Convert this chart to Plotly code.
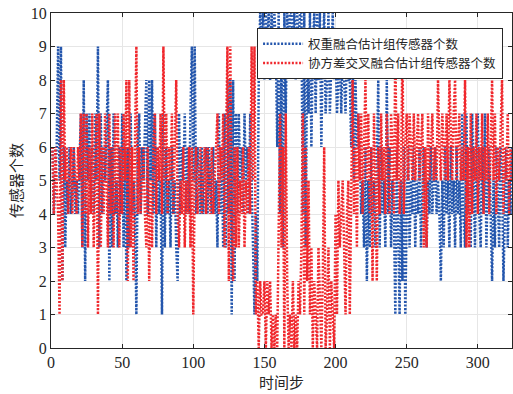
import plotly.graph_objects as go

# ---- data ----
blue_counts = [
    6, 4, 5, 6, 9, 5, 9, 2, 6, 3, 5, 4, 6, 4, 5, 6, 4, 5, 4, 6,
    7, 3, 8, 2, 7, 5, 7, 4, 6, 4, 7, 5, 9, 3, 7, 4, 6, 5, 7, 8,
    2, 6, 3, 7, 4, 5, 3, 6, 4, 7, 3, 6, 2, 6, 3, 7, 4, 5, 4, 1,
    6, 7, 4, 6, 5, 7, 8, 4, 8, 5, 8, 4, 7, 3, 6, 4, 5, 1, 7, 3,
    6, 4, 5, 3, 6, 4, 5, 3, 2, 7, 4, 6, 5, 7, 4, 6, 4, 7, 9, 5,
    9, 4, 6, 5, 4, 6, 4, 5, 6, 4, 6, 5, 4, 6, 4, 5, 3, 7, 4, 6,
    3, 7, 3, 8, 4, 8, 1, 8, 2, 7, 4, 7, 5, 6, 4, 7, 5, 6, 4, 7,
    5, 3, 1, 4, 2, 8, 10, 9, 10, 8, 10, 9, 10, 8, 10, 9, 10, 9, 6, 10,
    4, 9, 3, 10, 7, 10, 9, 10, 10, 9, 10, 8, 10, 9, 10, 10, 4, 10, 3, 9,
    7, 10, 6, 9, 10, 7, 10, 8, 10, 6, 9, 10, 7, 8, 10, 7, 9, 10, 8, 9,
    7, 8, 9, 7, 9, 8, 7, 9, 8, 8, 6, 9, 5, 8, 6, 7, 6, 4, 5, 3,
    6, 2, 5, 3, 6, 4, 5, 3, 6, 8, 3, 6, 4, 5, 3, 8, 4, 6, 3, 5,
    4, 1, 6, 3, 1, 5, 2, 6, 1, 4, 6, 3, 5, 4, 6, 3, 5, 4, 6, 3,
    5, 6, 4, 3, 5, 4, 6, 4, 5, 6, 4, 5, 4, 2, 5, 3, 6, 4, 5, 3,
    6, 4, 5, 3, 6, 4, 5, 3, 7, 4, 3, 7, 4, 6, 3, 7, 5, 3, 6, 7,
    4, 3, 6, 4, 7, 3, 5, 6, 4, 2, 5, 3, 6, 4, 3, 6, 5, 2, 4, 6,
    3, 5, 4, 6,
]

red_counts = [
    6, 4, 6, 5, 4, 1, 8, 2, 8, 5, 6, 4, 5, 6, 4, 6, 5, 4, 6, 5,
    7, 3, 7, 4, 7, 3, 6, 4, 7, 3, 5, 7, 1, 7, 3, 6, 4, 7, 5, 3,
    7, 4, 6, 3, 7, 4, 7, 3, 6, 4, 7, 5, 8, 2, 8, 3, 6, 2, 6, 9,
    4, 6, 4, 5, 6, 4, 3, 6, 2, 5, 3, 6, 7, 4, 6, 5, 7, 4, 9, 5,
    7, 4, 6, 5, 7, 4, 6, 8, 4, 3, 5, 4, 6, 3, 5, 4, 6, 3, 6, 1,
    5, 6, 4, 5, 6, 4, 5, 6, 4, 6, 5, 4, 6, 4, 5, 6, 7, 4, 6, 5,
    7, 3, 6, 9, 2, 9, 4, 2, 6, 3, 6, 3, 5, 4, 6, 3, 5, 4, 6, 4,
    9, 5, 9, 1, 2, 0, 2, 1, 1, 2, 0, 2, 1, 2, 0, 1, 0, 1, 0, 3,
    7, 3, 6, 0, 7, 2, 0, 1, 0, 2, 0, 1, 0, 2, 1, 3, 7, 1, 6, 2,
    5, 1, 3, 0, 2, 1, 0, 3, 1, 0, 2, 6, 0, 1, 3, 0, 2, 1, 0, 4,
    1, 5, 3, 4, 5, 3, 1, 4, 5, 1, 5, 8, 4, 6, 3, 7, 5, 7, 4, 6,
    8, 5, 7, 4, 6, 2, 7, 5, 2, 6, 4, 7, 5, 6, 4, 7, 5, 4, 7, 6,
    4, 9, 5, 7, 4, 5, 9, 4, 6, 7, 5, 7, 6, 5, 7, 5, 6, 7, 5, 6,
    7, 3, 6, 3, 7, 5, 6, 7, 5, 6, 5, 8, 6, 5, 7, 6, 5, 7, 5, 8,
    6, 5, 7, 8, 5, 6, 7, 5, 6, 5, 8, 3, 6, 3, 7, 4, 6, 5, 7, 4,
    6, 5, 7, 4, 6, 5, 7, 4, 6, 8, 5, 7, 4, 6, 5, 7, 8, 4, 6, 5,
    7, 4, 6, 5,
]

blue_steps = list(range(1, len(blue_counts) + 1))
red_steps = list(range(1, len(red_counts) + 1))

x_ticks = [0, 50, 100, 150, 200, 250, 300]
y_ticks = list(range(0, 11))

name_blue = "权重融合估计组传感器个数"
name_red = "协方差交叉融合估计组传感器个数"
x_title = "时间步"
y_title = "传感器个数"

BLUE = "#2456ad"
RED = "#f0282d"
AX = "#262626"
GRID = "#e6e6e6"
SERIF = "Liberation Serif, Times New Roman, serif"
CJK = "Noto Sans CJK SC, sans-serif"

fig = go.Figure()
fig.add_trace(go.Scatter(
    x=blue_steps, y=blue_counts, mode="lines", name=name_blue,
    line=dict(color=BLUE, width=2.5, dash="2px,1.6px"),
))
fig.add_trace(go.Scatter(
    x=red_steps, y=red_counts, mode="lines", name=name_red,
    line=dict(color=RED, width=2.5, dash="2px,1.6px"),
))

fig.update_layout(
    width=513, height=394,
    margin=dict(l=51, r=1, t=13, b=46),
    paper_bgcolor="white", plot_bgcolor="white",
    showlegend=True,
    legend=dict(
        x=0.447, y=0.955, xanchor="left", yanchor="top",
        bgcolor="white", bordercolor=AX, borderwidth=1,
        font=dict(family=CJK, size=12.5, color=AX),
        tracegroupgap=0, itemwidth=40,
    ),
)
fig.update_xaxes(
    range=[0, 324], tickvals=x_ticks, ticktext=[str(v) for v in x_ticks],
    showgrid=True, gridcolor=GRID, gridwidth=1,
    showline=True, linecolor=AX, linewidth=1, mirror="ticks",
    ticks="inside", ticklen=4, tickcolor=AX,
    tickfont=dict(family=SERIF, size=16, color=AX),
    title=dict(text=x_title, font=dict(family=CJK, size=15, color=AX), standoff=4),
    zeroline=False,
)
fig.update_yaxes(
    range=[0, 10], tickvals=y_ticks, ticktext=[str(v) for v in y_ticks],
    showgrid=True, gridcolor=GRID, gridwidth=1,
    showline=True, linecolor=AX, linewidth=1, mirror="ticks",
    ticks="inside", ticklen=4, tickcolor=AX,
    tickfont=dict(family=SERIF, size=16, color=AX),
    title=dict(text=y_title, font=dict(family=CJK, size=15, color=AX), standoff=4),
    zeroline=False,
)

fig.write_html("out.html")
